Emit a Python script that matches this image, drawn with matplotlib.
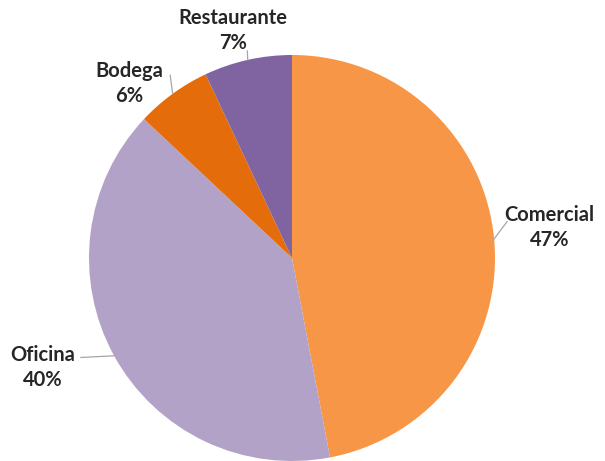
import matplotlib.pyplot as plt
import numpy as np

labels = ["Comercial", "Oficina", "Bodega", "Restaurante"]
values = [47, 40, 6, 7]
colors = ["#F79646", "#B3A2C7", "#E46C0A", "#8064A2"]

# label centres and leader-line ends (pie radius = 1)
label_pos = [(1.27, 0.15), (-1.23, -0.54), (-0.80, 0.86), (-0.29, 1.12)]
line_end = [(1.06, 0.18), (-1.04, -0.49), (-0.60, 0.90), (-0.22, 1.02)]

plt.rcParams["font.family"] = ["Lato", "DejaVu Sans"]

fig = plt.figure(figsize=(6.05, 4.61), dpi=100)
ax = fig.add_axes([0, 0, 1, 1])
ax.axis("off")

wedges, _ = ax.pie(values, colors=colors, startangle=90, counterclock=False,
                   radius=1.0, wedgeprops=dict(linewidth=0))

total = sum(values)
for w, lab, v, pos, end in zip(wedges, labels, values, label_pos, line_end):
    ang = np.deg2rad((w.theta1 + w.theta2) / 2)
    x0, y0 = np.cos(ang), np.sin(ang)
    ax.plot([x0, end[0]], [y0, end[1]], color="#A6A6A6", lw=0.9)
    ax.text(pos[0], pos[1], f"{lab}\n{round(100 * v / total)}%", ha="center",
            va="center", fontsize=14.5, fontweight="bold", color="#262626",
            linespacing=1.3)

s = 203.0
ax.set_xlim(-292 / s, (605 - 292) / s)
ax.set_ylim(-(461 - 258) / s, 258 / s)
ax.set_aspect("auto")

fig.savefig("out.png", dpi=100)
